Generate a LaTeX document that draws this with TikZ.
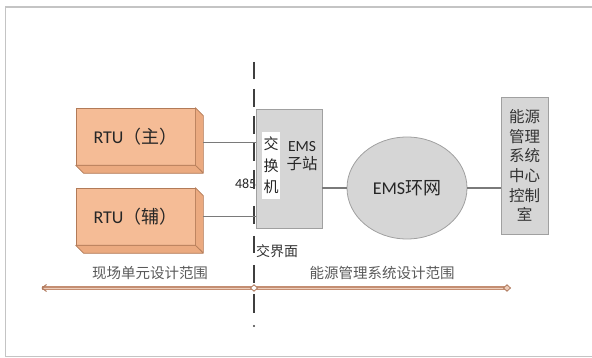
\documentclass[tikz,border=0pt]{standalone}
\usepackage{fontspec}
\setmainfont{Carlito}
\newfontfamily\cjk{Noto Sans CJK SC}
\usetikzlibrary{shapes.geometric}
\definecolor{rtufill}{HTML}{F5BC96}
\definecolor{rtuside}{HTML}{EBAA80}
\definecolor{rtuline}{HTML}{B27B58}
\definecolor{grayfill}{HTML}{D6D6D6}
\definecolor{grayline}{HTML}{A0A0A0}
\definecolor{connc}{HTML}{7A7A7A}
\definecolor{boundc}{HTML}{3F3F3F}
\definecolor{rangec}{HTML}{C48E72}
\definecolor{rangein}{HTML}{EDCDBA}
\definecolor{rangetip}{HTML}{B07A5E}
\definecolor{framec}{HTML}{C4C4C4}
\definecolor{labc}{HTML}{595959}
\tikzset{
  rtubox/.style={draw=rtuline, fill=rtufill, line width=0.6pt, minimum width=119pt, minimum height=57pt, inner sep=0pt, font=\fontsize{18}{20}\selectfont, text=black!85},
  rtuface/.style={draw=rtuline, fill=rtuside, line width=0.6pt, line join=round},
  graybox/.style={draw=grayline, fill=grayfill, line width=0.8pt, inner sep=0pt},
  conn/.style={draw=connc, line width=1.4pt},
  bound/.style={draw=boundc, line width=2.3pt},
  rangelab/.style={font=\cjk\fontsize{14.5}{16}\selectfont, text=labc},
}
\begin{document}
\begin{tikzpicture}[x=1pt,y=-1pt]
\useasboundingbox (0,0) rectangle (592,358);
% frame
\draw[framec, line width=1.6pt] (5.5,6.8) rectangle (600,356.6);
% 485 label (behind the boundary line)
\node[anchor=east, font=\fontsize{14}{14}\selectfont, text=black!85, inner sep=0pt] (n485) at (256.5,184) {485};
% boundary dashes
\foreach \a/\b in {62/79,89/107,116/134,143/161,170/189,206/224,236/253,265/283,294/313}
  \draw[bound] (254,\a) -- (254,\b);
\fill[boundc] (254,326) circle (1.2pt);
% RTU boxes
\node[rtubox] (rtu1) at (135.5,136.5) {RTU{\cjk （主）}};
\filldraw[rtuface] (rtu1.north east) -- ++(8,8) -- ++(0,57) -- (rtu1.south east) -- cycle;
\filldraw[rtuface] (rtu1.south west) -- (rtu1.south east) -- ++(8,8) -- ([xshift=8pt,yshift=-8pt]rtu1.south west) -- cycle;
\node[rtubox] (rtu2) at (135.5,216.5) {RTU{\cjk （辅）}};
\filldraw[rtuface] (rtu2.north east) -- ++(8,8) -- ++(0,57) -- (rtu2.south east) -- cycle;
\filldraw[rtuface] (rtu2.south west) -- (rtu2.south east) -- ++(8,8) -- ([xshift=8pt,yshift=-8pt]rtu2.south west) -- cycle;
% EMS substation
\node[graybox, minimum width=66pt, minimum height=119pt] (ems) at (289,168.5) {};
\node[fill=white, minimum width=18pt, minimum height=67pt, inner sep=0pt, align=center, font=\cjk\fontsize{15}{21.5}\selectfont, text=black!85] (sw) at (271,165.5) {交\\换\\机};
\node[align=center, inner sep=0pt, font=\fontsize{15.5}{18}\selectfont, text=black!85] (emst) at (302,156) {EMS\\{\cjk 子站}};
% ring
\node[ellipse, graybox, minimum width=120pt, minimum height=102pt, font=\fontsize{18}{20}\selectfont, text=black!85] (ring) at (407,188) {EMS{\cjk 环网}};
% control room
\node[graybox, minimum width=47pt, minimum height=137pt, align=center, font=\cjk\fontsize{15.5}{19.6}\selectfont, text=black!80] (ctrl) at (524.5,165.5) {能源\\管理\\系统\\中心\\控制\\室};
% connectors
\path ([xshift=8pt,yshift=-6pt]rtu1.east) coordinate (r1);
\draw[conn] (r1) -- (r1 -| ems.west);
\path ([xshift=8pt]rtu2.east) coordinate (r2);
\draw[conn] (r2) -- (r2 -| ems.west);
\draw[conn] (ems.east |- ring.west) -- (ring.west);
\draw[conn] (ring.east) -- (ring.east -| ctrl.west);
% interface label
\node[anchor=west, inner sep=0pt, font=\cjk\fontsize{14}{16}\selectfont, text=black!80] (jie) at (256,251) {交界面};
% range line
\coordinate (L) at (42,288);
\coordinate (M) at (254,288);
\coordinate (R) at (507,288);
\draw[rangec, line width=3.2pt] (L) -- (R);
\draw[rangein, line width=0.9pt] (L) -- (R);
\draw[rangetip, line width=1pt, line join=round] ([xshift=4.5pt,yshift=3.5pt]L) -- (L) -- ([xshift=4.5pt,yshift=-3.5pt]L);
\filldraw[draw=rangetip, fill=rangein, line width=0.8pt] ([xshift=-3.5pt]R) -- ([yshift=3.2pt]R) -- ([xshift=3.5pt]R) -- ([yshift=-3.2pt]R) -- cycle;
\filldraw[draw=rangetip, fill=white, line width=0.8pt] ([xshift=-3.5pt]M) -- ([yshift=3.2pt]M) -- ([xshift=3.5pt]M) -- ([yshift=-3.2pt]M) -- cycle;
\node[rangelab] (lab1) at (150,273) {现场单元设计范围};
\node[rangelab] (lab2) at (382,273) {能源管理系统设计范围};
\end{tikzpicture}
\end{document}
